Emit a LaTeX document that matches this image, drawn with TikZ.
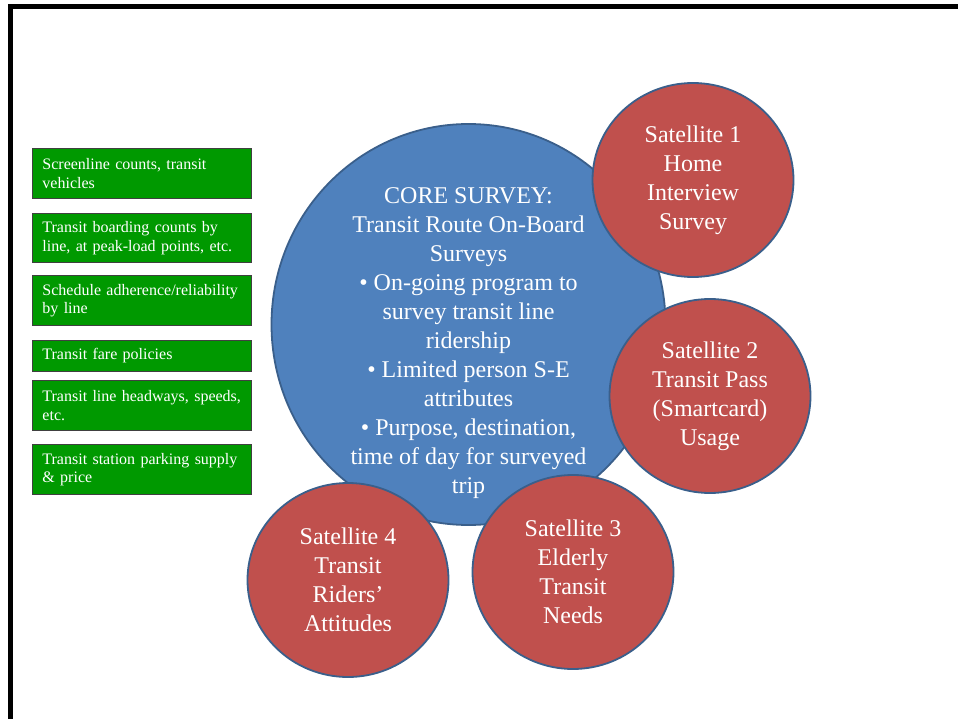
\documentclass[tikz,border=0pt]{standalone}
\usepackage{fontspec}
\setmainfont{Liberation Serif}
\usetikzlibrary{shapes.geometric}
\definecolor{coreblue}{HTML}{4F81BD}
\definecolor{satred}{HTML}{C0504D}
\definecolor{rimblue}{HTML}{3A5F8B}
\definecolor{factgreen}{HTML}{009900}
\definecolor{factline}{HTML}{404040}

\begin{document}
\begin{tikzpicture}[x=1pt,y=-1pt,
fact/.style={draw=factline,fill=factgreen,line width=.9pt,text=white,anchor=north west,
 font=\fontsize{16}{18.5}\selectfont,text width=199pt,align=left,inner xsep=10pt,inner ysep=0pt,minimum height=#1},
fact/.default=50pt,
bubble/.style={ellipse,draw=rimblue,fill=#1,line width=1.8pt,inner sep=0pt},
sat/.style={bubble=satred,text=white,font=\fontsize{24}{29}\selectfont,align=center,minimum width=201pt,minimum height=194pt}]
\useasboundingbox (0,0) rectangle (958,719);
\draw[line width=4.6pt,miter limit=10] (10.5,719)--(10.5,6.5)--(958,6.5);
\node[fact] (screen) at (32,148) {Screenline counts, transit\\vehicles};
\node[fact=49pt] (board) at (32,213) {Transit boarding counts by\\line, at peak-load points, etc.};
\node[fact] (sched) at (32,275) {Schedule adherence/reliability\\by line};
\node[fact=31pt] (fare) at (32,340) {Transit fare policies};
\node[fact] (headway) at (32,380) {Transit line headways, speeds,\\etc.};
\node[fact] (parking) at (32,444) {Transit station parking supply\\\& price};
\node[bubble=coreblue,minimum width=394pt,minimum height=401pt] (core) at (468.5,324.5) {};
\node[text=white,font=\fontsize{24}{29}\selectfont,align=center] (coretext) at (468.5,343)
 {CORE SURVEY:\\Transit Route On-Board\\Surveys\\\textbullet{} On-going program to\\survey transit line\\ridership\\\textbullet{} Limited person S-E\\attributes\\\textbullet{} Purpose, destination,\\time of day for surveyed\\trip};
\node[sat] (sat1) at (693,180) {Satellite 1\\Home\\Interview\\Survey};
\node[sat] (sat2) at (710,396) {Satellite 2\\Transit Pass\\(Smartcard)\\Usage};
\node[sat] (sat3) at (573,572) {Satellite 3\\Elderly\\Transit\\Needs};
\node[sat] (sat4) at (348,580) {Satellite 4\\Transit\\Riders’\\Attitudes};
\end{tikzpicture}
\end{document}
